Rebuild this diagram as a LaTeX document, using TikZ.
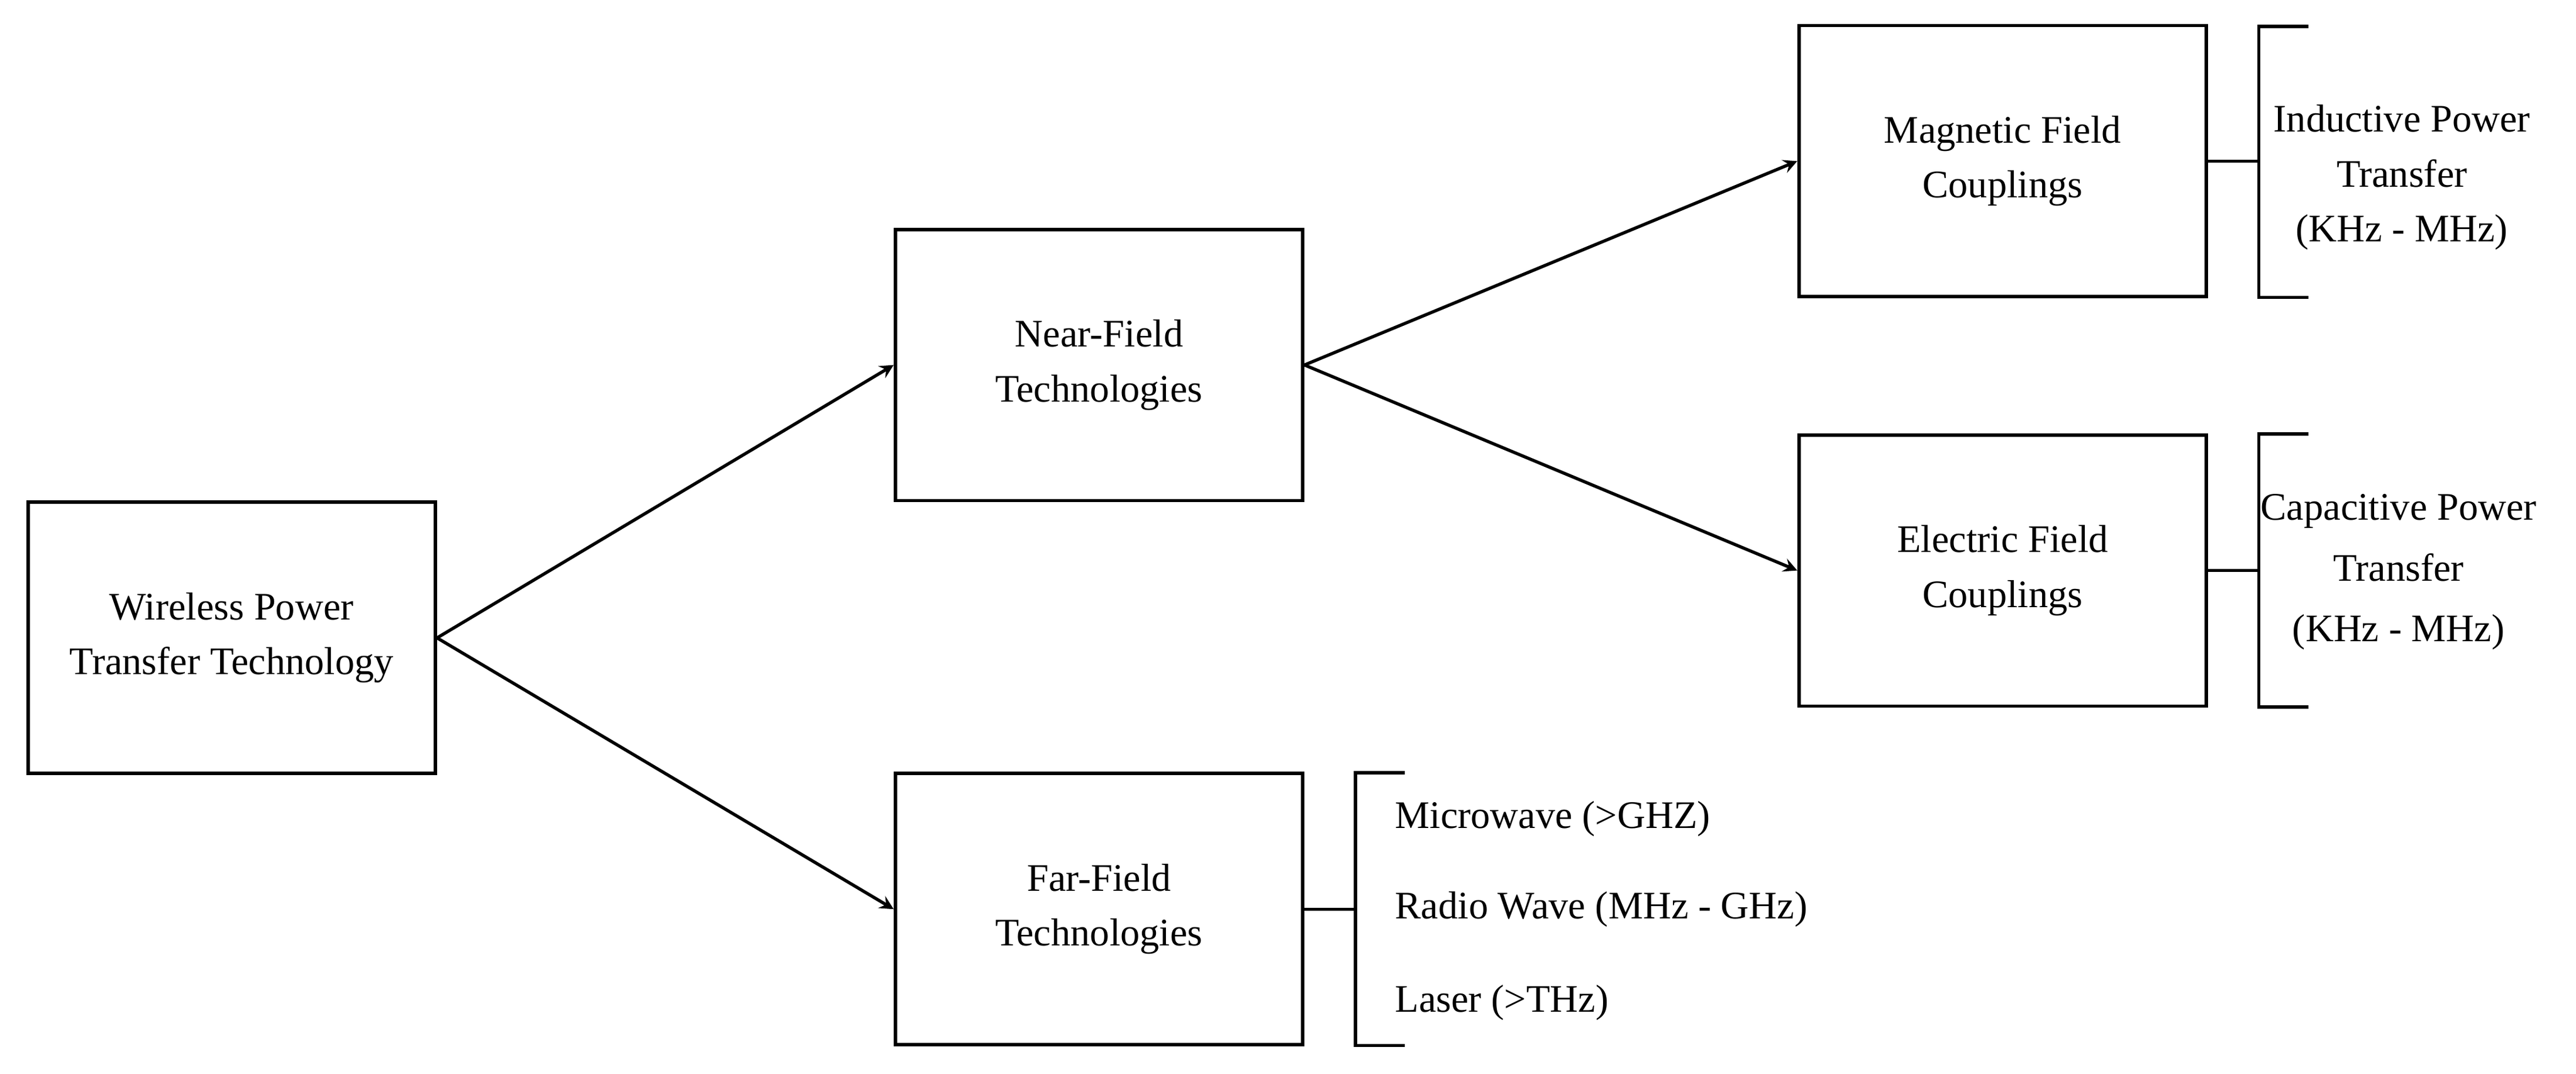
\documentclass[tikz,border=0pt]{standalone}
\usepackage{fontspec}
\setmainfont{Liberation Serif}
\begin{document}
\begin{tikzpicture}[x=0.02cm,y=-0.02cm,
 box/.style={draw,line width=1.2pt,minimum width=4.96cm,minimum height=3.3cm,align=center,font=\fontsize{13.5}{19}\selectfont},
 lbl/.style={align=center,font=\fontsize{13.5}{19}\selectfont},
 arr/.style={-stealth,line width=1.1pt},
 ln/.style={line width=1.1pt}]
\useasboundingbox (0,0) rectangle (1568,653);
\node[box] (w) at (141,388) {Wireless Power\\Transfer Technology};
\node[box] (n) at (669,222) {Near-Field\\Technologies};
\node[box] (f) at (669,553) {Far-Field\\Technologies};
\node[box] (m) at (1219,98) {Magnetic Field\\Couplings};
\node[box] (e) at (1219,347) {Electric Field\\Couplings};
\draw[arr] (w.east) -- (n.west);
\draw[arr] (w.east) -- (f.west);
\draw[arr] (n.east) -- (m.west);
\draw[arr] (n.east) -- (e.west);
% brackets
\coordinate (mb) at (1375,98);
\draw[ln] (m.east) -- (mb);
\draw[ln] (1405,16) -- (1375,16) -- (1375,181) -- (1405,181);
\node[lbl] (mt) at (1462,108) {Inductive Power\\Transfer\\(KHz - MHz)};
\coordinate (eb) at (1375,347);
\draw[ln] (e.east) -- (eb);
\draw[ln] (1405,264) -- (1375,264) -- (1375,430) -- (1405,430);
\node[lbl,font=\fontsize{13.5}{21}\selectfont] (et) at (1460,348) {Capacitive Power\\Transfer\\(KHz - MHz)};
\coordinate (fb) at (825,553);
\draw[ln] (f.east) -- (fb);
\draw[ln] (855,470) -- (825,470) -- (825,636) -- (855,636);
\node[lbl,anchor=west] (f1) at (843,498) {Microwave (>GHZ)};
\node[lbl,anchor=west] (f2) at (843,553) {Radio Wave (MHz - GHz)};
\node[lbl,anchor=west] (f3) at (843,610) {Laser (>THz)};
\end{tikzpicture}
\end{document}
